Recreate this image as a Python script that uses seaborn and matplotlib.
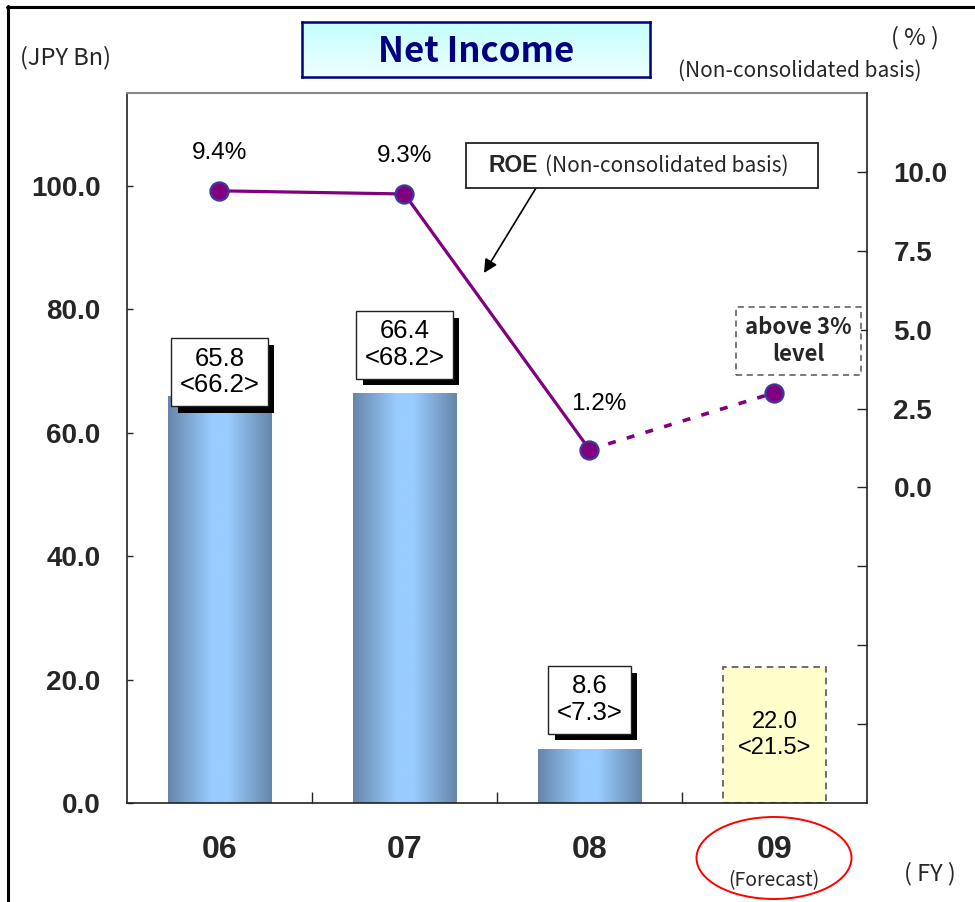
import numpy as np
import pandas as pd
import matplotlib
matplotlib.use('Agg')
import matplotlib.pyplot as plt
import matplotlib.patheffects as pe
from matplotlib.patches import Rectangle, Ellipse
from matplotlib.lines import Line2D
from matplotlib.colors import LinearSegmentedColormap
import seaborn as sns

# Fiscal years, net income (JPY Bn), bracketed comparison figures, ROE (%)
years = ['06', '07', '08', '09']
net_income = [65.8, 66.4, 8.6, 22.0]
net_income_ref = [66.2, 68.2, 7.3, 21.5]
roe = [9.4, 9.3, 1.2, 3.0]
roe_labels = ['9.4%', '9.3%', '1.2%']
roe_forecast_note = 'above 3%\nlevel'
left_ticks = [0, 20, 40, 60, 80, 100]
right_ticks = [-7.5, -5.0, -2.5, 0.0, 2.5, 5.0, 7.5, 10.0]

sns.set_theme(style='white')
plt.rcParams['font.family'] = ['Liberation Sans', 'DejaVu Sans']
GOTHIC = ['Noto Sans CJK JP', 'DejaVu Sans']

W, H = 975, 902
fig = plt.figure(figsize=(W / 100, H / 100), dpi=100)


def fx(px):
    return px / W


def fy(py):
    return 1 - py / H


ax = fig.add_axes([fx(127), fy(803), fx(867) - fx(127), fy(93) - fy(803)])

df = pd.DataFrame({'year': years, 'income': net_income})
sns.barplot(data=df, x='year', y='income', color='#99CCFF', saturation=1,
            width=0.56, ax=ax, zorder=2)

# metallic horizontal gradient on the actual-result bars
bar_cmap = LinearSegmentedColormap.from_list(
    'bar', [(0, '#6686AA'), (0.42, '#99CCFF'), (0.58, '#99CCFF'), (1, '#6686AA')])
grad = np.linspace(0, 1, 256).reshape(1, -1)
for patch in ax.patches[:3]:
    x0, w, h = patch.get_x(), patch.get_width(), patch.get_height()
    ax.imshow(grad, cmap=bar_cmap, extent=[x0, x0 + w, 0, h], aspect='auto',
              zorder=2, interpolation='bicubic')
    patch.set_facecolor('none')
    patch.set_edgecolor('none')

# forecast bar
fc_bar = ax.patches[3]
fc_bar.set_facecolor('#FFFFCC')
fc_bar.set_edgecolor('#555555')
fc_bar.set_linestyle((0, (4, 3)))
fc_bar.set_linewidth(1.2)

ax.set_xlim(-0.5, 3.5)
ax.set_ylim(0, 115)
ax.set_xlabel('')
ax.set_ylabel('')
ax.set_yticks(left_ticks)
ax.set_yticklabels([f'{v:.1f}' for v in left_ticks], fontsize=20, fontweight='bold')
ax.tick_params(axis='y', direction='in', length=4, width=1, pad=19, left=True)
ax.set_xticks(range(len(years)))
ax.set_xticklabels(years, fontsize=23, fontweight='bold')
ax.tick_params(axis='x', length=0, pad=23)
ax.set_xticks([0.5, 1.5, 2.5], minor=True)
ax.tick_params(axis='x', which='minor', direction='in', length=8, width=1, bottom=True)
for side in ['left', 'bottom']:
    ax.spines[side].set_color('#222222')
    ax.spines[side].set_linewidth(1.2)
ax.spines['top'].set_color('#888888')
ax.spines['top'].set_linewidth(1.5)
ax.spines['right'].set_visible(False)

# value boxes with a solid drop shadow above the bars
box_lift = [4.0, 7.8, 8.1]
for i in range(3):
    txt = f'{net_income[i]:.1f}\n<{net_income_ref[i]:.1f}>'
    t = ax.text(i, net_income[i] + box_lift[i], txt, ha='center', va='center',
                fontsize=18.5, color='black', linespacing=1.15,
                bbox=dict(boxstyle='square,pad=0.32', fc='white', ec='#222222', lw=1),
                zorder=6)
    t.get_bbox_patch().set_path_effects([
        pe.SimplePatchShadow(offset=(4.5, -5), shadow_rgbFace='black', alpha=1.0),
        pe.Normal()])
ax.text(3, 11.0, f'{net_income[3]:.1f}\n<{net_income_ref[3]:.1f}>', ha='center',
        va='center', fontsize=17, color='black', linespacing=1.2, zorder=6)

# ROE on the secondary axis
ax2 = ax.twinx()
ax2.set_zorder(ax.get_zorder() + 1)
ax2.patch.set_visible(False)
sns.lineplot(x=[0, 1, 2], y=roe[:3], ax=ax2, color='#800080', linewidth=2.3, zorder=3)
sns.lineplot(x=[2, 3], y=roe[2:], ax=ax2, color='#800080', linewidth=2.6,
             linestyle=(0, (2.2, 3.2)), zorder=3)
sns.scatterplot(x=list(range(4)), y=roe, ax=ax2, s=170, color='#800080',
                edgecolor='#3A3AA0', linewidth=1.6, zorder=4)
ax2.set_xlim(-0.5, 3.5)
ax2.set_ylim(-10, 12.5)
ax2.set_ylabel('')
ax2.set_yticks(right_ticks)
ax2.set_yticklabels(['' if v < 0 else f'{v:.1f}' for v in right_ticks],
                    fontsize=20, fontweight='bold')
ax2.tick_params(axis='y', direction='in', length=7, width=1, pad=19, right=True)
for side in ['left', 'top', 'bottom']:
    ax2.spines[side].set_visible(False)
ax2.spines['right'].set_color('#222222')
ax2.spines['right'].set_linewidth(1.2)

pct_pos = [(0, 10.6), (1, 10.5), (2.05, 2.64)]
for (x, y), lbl in zip(pct_pos, roe_labels):
    ax2.text(x, y, lbl, ha='center', va='center', fontsize=17.5, color='black')
ax2.text(3.13, 4.64, roe_forecast_note, ha='center', va='center', fontsize=16,
         fontweight='bold', family=GOTHIC, linespacing=1.2,
         bbox=dict(boxstyle='square,pad=0.4', fc='white', ec='#555555', lw=1.1,
                   linestyle=(0, (4, 3))))

# ROE callout
fig.add_artist(Rectangle((fx(466), fy(188)), fx(818) - fx(466), (188 - 143) / H,
                         transform=fig.transFigure, fc='white', ec='#222222', lw=1.3,
                         zorder=5))
fig.text(fx(489), fy(166), 'ROE', fontsize=16.5, fontweight='bold', ha='left',
         va='center', zorder=6)
fig.text(fx(545), fy(166), '(Non-consolidated basis)', fontsize=15, family=GOTHIC,
         ha='left', va='center', zorder=6)
ax2.annotate('', xy=(fx(484), fy(273)), xytext=(fx(536), fy(188)),
             xycoords='figure fraction', textcoords='figure fraction',
             arrowprops=dict(arrowstyle='-|>', color='black', lw=1.2,
                             mutation_scale=20, shrinkA=0, shrinkB=0))

# title panel
tax = fig.add_axes([fx(302), fy(77), fx(650) - fx(302), (77 - 22) / H])
vgrad = np.linspace(0, 1, 64).reshape(-1, 1)
tax.imshow(vgrad, cmap=LinearSegmentedColormap.from_list('t', ['#C4FFFF', '#EEFFFF']),
           aspect='auto', extent=[0, 1, 0, 1], origin='upper')
tax.set_xticks([])
tax.set_yticks([])
for s in tax.spines.values():
    s.set_visible(True)
    s.set_color('#000080')
    s.set_linewidth(1.8)
tax.text(0.5, 0.47, 'Net Income', ha='center', va='center', fontsize=25,
         fontweight='bold', color='#000080', family=GOTHIC, transform=tax.transAxes)

# unit and axis notes
fig.text(fx(66), fy(58), '(JPY Bn)', fontsize=17, family=GOTHIC, ha='center', va='center')
fig.text(fx(915), fy(38), '( % )', fontsize=17, family=GOTHIC, ha='center', va='center')
fig.text(fx(800), fy(71), '(Non-consolidated basis)', fontsize=15, family=GOTHIC,
         ha='center', va='center')
fig.text(fx(930), fy(874), '( FY )', fontsize=17, family=GOTHIC, ha='center', va='center')
fig.text(fx(774), fy(881), '(Forecast)', fontsize=14, family=GOTHIC, ha='center',
         va='center')
fig.add_artist(Ellipse((fx(774), fy(858)), 155 / W, 82 / H, transform=fig.transFigure,
                       fill=False, ec='#FF0000', lw=1.4))

# outer frame
fig.add_artist(Line2D([fx(8), fx(8)], [fy(6), 0], transform=fig.transFigure,
                      color='black', lw=2.2))
fig.add_artist(Line2D([fx(7), 1], [fy(7), fy(7)], transform=fig.transFigure,
                      color='black', lw=2.2))

fig.savefig('out.png', dpi=100)
